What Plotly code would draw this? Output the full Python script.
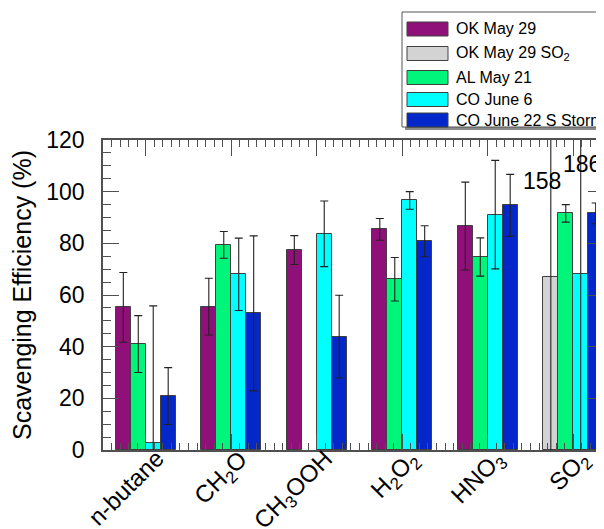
import plotly.graph_objects as go

# ---------------- data ----------------
categories = ["n-butane", "CH<sub>2</sub>O", "CH<sub>3</sub>OOH",
              "H<sub>2</sub>O<sub>2</sub>", "HNO<sub>3</sub>", "SO<sub>2</sub>"]

ok_may29 = [55.2, 55.5, 77.4, 85.4, 86.7, None]
ok_may29_err = [13.5, 11.0, 5.6, 4.2, 17.0, None]

ok_may29_so2 = [None, None, None, None, None, 67.1]
ok_may29_so2_err = [None, None, None, None, None, 91.0]

al_may21 = [41.0, 79.4, None, 66.1, 74.7, 91.6]
al_may21_err = [11.0, 5.2, None, 8.4, 7.4, 3.4]

co_june6 = [2.8, 68.0, 83.7, 96.6, 91.1, 68.3]
co_june6_err = [53.0, 14.0, 12.7, 3.4, 21.0, 117.7]

co_june22 = [20.9, 52.9, 43.9, 80.8, 94.7, 91.6]
co_june22_err = [11.0, 30.0, 16.0, 6.0, 12.0, 4.0]

series_names = ["OK May 29", "OK May 29 SO<sub>2</sub>", "AL May 21",
                "CO June 6", "CO June 22 S Storm"]
series_colors = ["#8E1078", "#D3D3D3", "#00F57A", "#00FFFF", "#0327C9"]
series_values = [ok_may29, ok_may29_so2, al_may21, co_june6, co_june22]
series_errors = [ok_may29_err, ok_may29_so2_err, al_may21_err, co_june6_err, co_june22_err]
series_slot = [0, 0, 1, 2, 3]

# ---------------- layout constants ----------------
OFF = 8                      # page body margin of the html page
W, H = 604 - OFF, 529 - OFF  # figure size so it fills the window
ML, MR, MT, MB = 103 - OFF, 0, 140 - OFF, 79
PW, PH = W - ML - MR, H - MT - MB
FONT = "Liberation Sans, Arial, Helvetica, sans-serif"
AX = "#505050"
BAR_W = 0.175

x = list(range(len(categories)))

fig = go.Figure()
for name, col, vals, errs, slot in zip(series_names, series_colors, series_values,
                                       series_errors, series_slot):
    fig.add_trace(go.Bar(
        x=x, y=vals, name=name,
        width=BAR_W, offset=-2 * BAR_W + slot * BAR_W,
        marker=dict(color=col, line=dict(color="#404040", width=1)),
        error_y=dict(type="data", array=errs, visible=True,
                     color="#222222", thickness=1.1, width=4),
        showlegend=False,
    ))


def px_x(p):
    return (p - OFF - ML) / PW


def px_y(p):
    return (H - MB - (p - OFF)) / PH


# labels for error bars that go off-scale (SO2)
so2 = len(categories) - 1
off_scale = [
    (ok_may29_so2[so2] + ok_may29_so2_err[so2], 4.64, 104),
    (co_june6[so2] + co_june6_err[so2], 5.10, 110.7),
]
annotations = []
for val, ax_, ay_ in off_scale:
    annotations.append(dict(x=ax_, y=ay_, xref="x", yref="y", text=f"{val:.0f}",
                            showarrow=False, font=dict(family=FONT, size=23, color="black"),
                            xanchor="center", yanchor="middle"))

# rotated category labels (placed closer to the axis than tick labels allow)
for i, cat in enumerate(categories):
    annotations.append(dict(x=i + 0.31, y=px_y(442), xref="x", yref="paper", text=cat,
                            textangle=-45, showarrow=False, xanchor="right", yanchor="top",
                            font=dict(family=FONT, size=24, color="black")))

# manual legend
shapes = []
bx0, by0, bx1, by1 = 402, 12, 660, 127
shapes.append(dict(type="rect", xref="paper", yref="paper",
                   x0=px_x(bx0 + 3), x1=px_x(bx1 + 3), y0=px_y(by0 + 3), y1=px_y(by1 + 3),
                   fillcolor="#8a8a8a", line=dict(width=0), layer="above"))
shapes.append(dict(type="rect", xref="paper", yref="paper",
                   x0=px_x(bx0), x1=px_x(bx1), y0=px_y(by0), y1=px_y(by1),
                   fillcolor="white", line=dict(color="#555555", width=1), layer="above"))
row_centers = [29, 53.5, 77.5, 99.5, 120]
for name, col, yc in zip(series_names, series_colors, row_centers):
    shapes.append(dict(type="rect", xref="paper", yref="paper",
                       x0=px_x(407), x1=px_x(448), y0=px_y(yc - 7), y1=px_y(yc + 7),
                       fillcolor=col, line=dict(color="#404040", width=1), layer="above"))
    annotations.append(dict(x=px_x(454), y=px_y(yc), xref="paper", yref="paper",
                            text=name, showarrow=False, xanchor="left", yanchor="middle",
                            font=dict(family=FONT, size=16, color="black")))

fig.update_layout(
    width=W, height=H, autosize=False,
    margin=dict(l=ML, r=MR, t=MT, b=MB, pad=0, autoexpand=False),
    plot_bgcolor="white", paper_bgcolor="white",
    barmode="overlay", bargap=0,
    font=dict(family=FONT, color="black"),
    shapes=shapes, annotations=annotations,
    xaxis=dict(
        automargin=False,
        range=[-0.5, -0.5 + PW / 85.5], tickmode="array", tickvals=x, ticktext=categories,
        showticklabels=False,
        showline=True, linecolor=AX, linewidth=1.5, mirror="ticks",
        ticks="inside", ticklen=16, tickwidth=1.3, tickcolor=AX,
        minor=dict(dtick=0.1, tick0=-0.5, ticks="inside", ticklen=7, tickwidth=1.1,
                   tickcolor=AX, showgrid=False),
        showgrid=False, zeroline=False, fixedrange=True,
    ),
    yaxis=dict(
        automargin=False,
        range=[0, 120], tickmode="linear", tick0=0, dtick=20,
        tickfont=dict(family=FONT, size=23, color="black"),
        ticklabelstandoff=12,
        title=dict(text="Scavenging Efficiency (%)", font=dict(family=FONT, size=25, color="black"),
                   standoff=10),
        showline=True, linecolor=AX, linewidth=1.5, mirror="ticks",
        ticks="inside", ticklen=16, tickwidth=1.3, tickcolor=AX,
        minor=dict(dtick=5, ticks="inside", ticklen=8, tickwidth=1.1, tickcolor=AX,
                   showgrid=False),
        showgrid=False, zeroline=False, fixedrange=True,
    ),
)

fig.write_html("out.html")
